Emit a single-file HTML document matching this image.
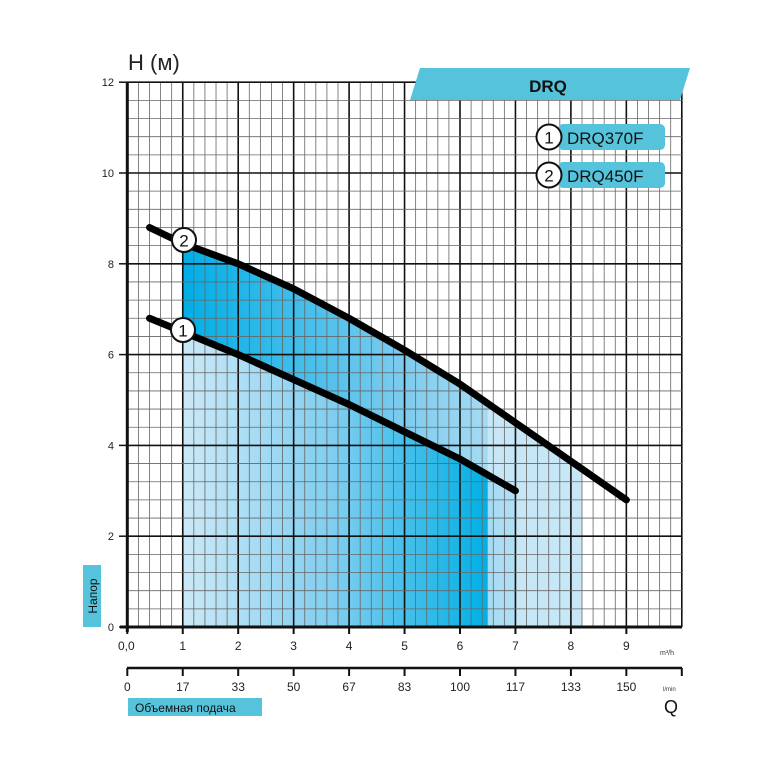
<!DOCTYPE html><html><head><meta charset="utf-8"><style>body{margin:0;background:#fff}svg{display:block}text{font-family:"Liberation Sans","DejaVu Sans",sans-serif}</style></head><body>
<svg id="s" width="783" height="777" xmlns="http://www.w3.org/2000/svg">
<defs>
<linearGradient id="gU" x1="182" x2="582" y1="0" y2="0" gradientUnits="userSpaceOnUse"><stop offset="0" stop-color="#00aee6"/><stop offset="0.55" stop-color="#7ccbee"/><stop offset="1" stop-color="#d2ecf8"/></linearGradient>
<linearGradient id="gL" x1="182" x2="488" y1="0" y2="0" gradientUnits="userSpaceOnUse"><stop offset="0" stop-color="#cbe9f7"/><stop offset="0.5" stop-color="#7fcdef"/><stop offset="1" stop-color="#00b0e6"/></linearGradient>
</defs>
<path d="M182.75 243.4 L238.2 263.8 L293.65 288.8 L349.1 318.3 L404.55 350.1 L460 384.1 L515.45 422.7 L570.9 461.3 L582 469 L582 627 L182.75 627 Z" fill="url(#gU)"/>
<path d="M487.7 474.9 L515.45 490.8 L515.45 627 L582 627 L582 469 L570.9 461.3 L515.45 422.7 L487.7 404 Z" fill="#c8e7f6"/>
<path d="M182.75 331.9 L238.2 354.6 L293.65 379.6 L349.1 404.5 L404.55 431.8 L460 459 L487.7 474.9 L487.7 627 L182.75 627 Z" fill="url(#gL)"/>
<g id="grid"></g>
<path d="M420 68 L690 68 L680 100 L410 100 Z" fill="#55c3db"/>
<text x="548" y="92" font-size="17" font-weight="bold" text-anchor="middle" fill="#111">DRQ</text>
<rect x="558" y="124" width="107" height="26" rx="5" fill="#55c3db"/>
<rect x="558" y="162" width="107" height="26" rx="5" fill="#55c3db"/>
<circle cx="549" cy="137" r="12.5" fill="#fff" stroke="#111" stroke-width="2"/>
<circle cx="549" cy="175" r="12.5" fill="#fff" stroke="#111" stroke-width="2"/>
<text x="549" y="143.5" font-size="17" text-anchor="middle" fill="#111">1</text>
<text x="549" y="181.5" font-size="17" text-anchor="middle" fill="#111">2</text>
<text x="567" y="144" font-size="17" fill="#111">DRQ370F</text>
<text x="567" y="182" font-size="17" fill="#111">DRQ450F</text>
<path d="M149.5 227.5 L182.75 243.4 L238.2 263.8 L293.65 288.8 L349.1 318.3 L404.55 350.1 L460 384.1 L515.45 422.7 L570.9 461.3 L626.35 499.9" fill="none" stroke="#000" stroke-width="7" stroke-linecap="round" stroke-linejoin="round"/>
<path d="M149.5 318.3 L182.75 331.9 L238.2 354.6 L293.65 379.6 L349.1 404.5 L404.55 431.8 L460 459 L515.45 490.8" fill="none" stroke="#000" stroke-width="7" stroke-linecap="round" stroke-linejoin="round"/>
<circle cx="184" cy="240" r="12" fill="#fff" stroke="#111" stroke-width="2"/>
<text x="184" y="246.5" font-size="17" text-anchor="middle" fill="#111">2</text>
<circle cx="183" cy="330" r="12" fill="#fff" stroke="#111" stroke-width="2"/>
<text x="183" y="336.5" font-size="17" text-anchor="middle" fill="#111">1</text>
<text x="128" y="70" font-size="22" fill="#222">H (м)</text>
<rect x="83" y="565" width="18" height="62" fill="#55c3db"/>
<text transform="translate(97,596) rotate(-90)" font-size="12" text-anchor="middle" fill="#111">Напор</text>
<line x1="127" y1="668" x2="682" y2="668" stroke="#111" stroke-width="2.5"/>
<rect x="128" y="698" width="134" height="18" fill="#55c3db"/>
<text x="135" y="712" font-size="12" fill="#111">Объемная подача</text>
<text x="664" y="713" font-size="18" fill="#111">Q</text>
<text x="660" y="655" font-size="7" fill="#333">m³/h</text>
<text x="663" y="691" font-size="6" fill="#333">l/min</text>
<g id="lab"></g>
</svg>
<script>
var ns="http://www.w3.org/2000/svg",g=document.getElementById('grid'),lb=document.getElementById('lab');
function X(q){return 127.3+55.45*q}function Y(h){return 627-45.4*h}
function ln(p,a,b,c,d,col,w){var l=document.createElementNS(ns,'line');l.setAttribute('x1',a);l.setAttribute('y1',b);l.setAttribute('x2',c);l.setAttribute('y2',d);l.setAttribute('stroke',col);l.setAttribute('stroke-width',w);p.appendChild(l)}
function tx(s,x,y,sz,anc){var t=document.createElementNS(ns,'text');t.setAttribute('x',x);t.setAttribute('y',y);t.setAttribute('font-size',sz);t.setAttribute('text-anchor',anc);t.setAttribute('fill','#222');t.textContent=s;lb.appendChild(t)}
for(var i=0;i<=50;i++){var x=X(i/5);var maj=i%5==0;ln(g,x,82,x,627,maj?'#111':'#666',maj?1.6:0.8)}
for(var j=0;j<=30;j++){var y=Y(j*0.4);var maj=j%5==0;ln(g,127,y,682,y,maj?'#111':'#666',maj?1.6:0.8)}
ln(g,127.3,82,127.3,632,'#111',3);ln(g,120,627,682,627,'#111',3);
for(var k=0;k<=12;k+=2){ln(g,119,Y(k),127,Y(k),'#111',1.5);tx(String(k),114,Y(k)+4,11,'end')}
var ql=['0,0','1','2','3','4','5','6','7','8','9'];
for(var q=0;q<=9;q++){ln(g,X(q),627,X(q),634,'#111',2);tx(ql[q],X(q)+(q==0?-1:0),650,12,'middle')}
var lm=['0','17','33','50','67','83','100','117','133','150'];
for(var q=0;q<=10;q++){ln(lb,X(q),668,X(q),676,'#111',2);if(q<10)tx(lm[q],X(q),691,12,'middle')}
</script>
</body></html>
